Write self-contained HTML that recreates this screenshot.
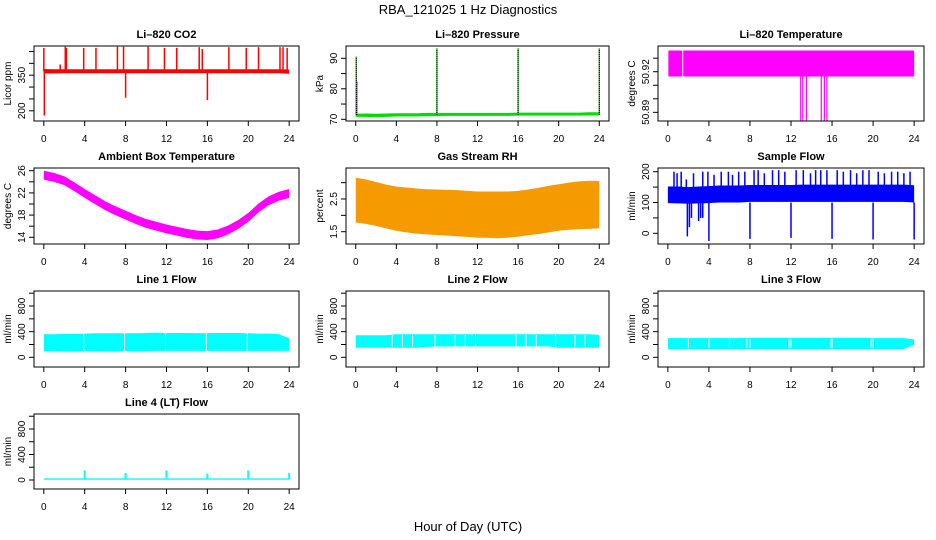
<!DOCTYPE html>
<html><head><meta charset="utf-8"><style>
html,body{margin:0;padding:0;background:#fff}
svg{display:block;font-family:"Liberation Sans",sans-serif}
</style></head><body>
<svg id="fig" width="936" height="540" viewBox="0 0 936 540" xmlns="http://www.w3.org/2000/svg">
<text x="468" y="14" text-anchor="middle" font-size="13">RBA_121025  1 Hz Diagnostics</text>
<text x="468" y="531" text-anchor="middle" font-size="13">Hour of Day (UTC)</text>
</svg>
<script>
// ---- shared ----
const hours = [0,1,2,3,4,5,6,7,8,9,10,11,12,13,14,15,16,17,18,19,20,21,22,23,24];
const xTicks = [0,4,8,12,16,20,24];

// ---- CO2 ----
const co2Lo = [357,357,358,358,358,358,358,358,358,358,358,358,358,358,358,358,358,358,358,358,358,358,358,358,356];
const co2Hi = [376,375,375,375,375,375,375,375,375,375,375,375,375,375,375,375,375,375,375,375,375,375,375,375,374];
const co2SpikeT = [0.0,2.1,2.2,3.9,5.1,7.2,7.8,10.2,11.8,13.0,15.2,15.5,18.1,19.8,21.0,23.1,23.4,23.8,1.6,8.0,16.0,0.05];
const co2SpikeV = [465,470,465,465,465,470,470,470,465,465,468,460,468,465,468,468,468,465,395,255,245,180];

// ---- Pressure ----
const presLo = [70.8,70.8,70.7,70.8,70.9,70.9,70.9,71.0,71.0,71.1,71.1,71.1,71.1,71.1,71.1,71.1,71.2,71.2,71.2,71.2,71.2,71.2,71.2,71.3,71.3];
const presHi = [71.8,71.9,71.8,71.9,72.0,72.0,72.0,72.1,72.1,72.1,72.1,72.1,72.1,72.1,72.1,72.1,72.2,72.2,72.2,72.2,72.2,72.2,72.2,72.3,72.3];
const presSpikeT = [0.05,0.1,8.0,16.0,24.0];
const presSpikeV = [90.5,82.5,93.2,93.2,93.2];

// ---- Li-820 Temperature ----
const tmpLo = [50.9165,50.9165,50.9165,50.9165,50.9165,50.9165,50.9165,50.9165,50.9165,50.9165,50.9165,50.9165,50.9165,50.9165,50.9165,50.9165,50.9165,50.9165,50.9165,50.9165,50.9165,50.9165,50.9165,50.9165,50.9165];
const tmpHi = [50.9357,50.9357,50.9357,50.9357,50.9357,50.9357,50.9357,50.9357,50.9357,50.9357,50.9357,50.9357,50.9357,50.9357,50.9357,50.9357,50.9357,50.9357,50.9357,50.9357,50.9357,50.9357,50.9357,50.9357,50.9357];
const tmpDipT = [12.95,13.15,13.5,14.95,15.25,15.5];
const tmpDipV = [50.884,50.884,50.884,50.884,50.884,50.884];

// ---- Ambient Box Temperature ----
const ambMid = [25.2,24.8,24.2,23.1,21.9,20.8,19.7,18.8,18.0,17.2,16.5,16.0,15.5,15.1,14.7,14.4,14.3,14.6,15.3,16.3,17.6,19.3,20.6,21.4,21.9];
const ambHalf = [0.8,0.8,0.8,0.8,0.8,0.8,0.8,0.8,0.8,0.8,0.8,0.8,0.8,0.8,0.8,0.8,0.8,0.8,0.8,0.8,0.8,0.8,0.8,0.8,0.8];

// ---- Gas Stream RH ----
const rhHi = [3.15,3.1,3.02,2.94,2.88,2.85,2.82,2.8,2.79,2.78,2.77,2.75,2.73,2.73,2.73,2.73,2.75,2.79,2.84,2.9,2.95,3.0,3.04,3.06,3.05];
const rhLo = [1.78,1.74,1.68,1.6,1.53,1.48,1.44,1.42,1.4,1.38,1.36,1.34,1.32,1.31,1.3,1.32,1.35,1.39,1.43,1.48,1.53,1.56,1.58,1.59,1.6];

// ---- Sample Flow ----
const sfLo = [98,97,96,97,98,100,100,100,102,102,102,102,102,102,102,102,102,102,102,102,102,102,102,102,100];
const sfHi = [152,152,150,152,153,155,155,155,157,157,157,157,157,158,158,158,158,158,158,158,158,158,158,158,156];
const sfSpikeT = [0.6,0.9,1.3,1.8,2.5,3.4,3.9,4.5,5.2,5.9,6.3,6.9,7.5,8.4,8.8,9.4,10.2,10.8,11.4,12.5,13.2,13.9,14.4,14.9,15.5,16.5,17.1,17.8,18.4,19.0,19.6,20.5,21.1,21.8,22.4,23.0,23.6];
const sfSpikeV = [200,195,200,175,195,200,200,190,200,200,190,200,200,205,205,195,205,205,200,205,205,195,205,205,205,205,200,205,195,205,205,200,195,200,200,195,200];
const sfDipT = [1.9,2.1,2.3,3.0,3.2,3.4,4.0,8.0,12.0,16.0,20.0,24.0];
const sfDipV = [-10,20,50,40,50,50,-25,-18,-15,-18,-20,-20];

// ---- Line flows ----
const l1Lo = [100,95,90,90,95,95,90,90,95,95,95,100,100,100,100,100,100,100,100,100,100,100,100,100,100];
const l1Hi = [360,360,365,365,370,375,375,375,375,375,380,385,380,380,380,375,380,380,380,380,375,370,370,360,300];
const l1GapT = [3.9,7.9,11.9,15.9,19.9];
const l2Lo = [150,150,150,150,150,150,150,160,170,170,170,170,170,170,170,170,170,170,170,170,150,150,150,150,150];
const l2Hi = [345,345,345,345,360,360,360,360,360,360,360,360,360,360,360,360,360,360,360,360,360,360,360,360,350];
const l2GapT = [3.6,4.6,5.6,7.8,9.8,10.8,11.8,15.8,16.8,17.8,19.7,21.6,22.6];
const l3Lo = [130,130,130,130,130,130,130,130,130,130,130,130,130,130,130,130,130,130,130,130,130,130,130,130,200];
const l3Hi = [300,300,300,300,300,300,300,300,305,305,305,305,305,305,305,305,305,305,305,305,300,300,300,300,280];
const l3GapT = [2.0,4.0,6.0,7.7,8.0,11.8,12.0,15.9,16.0,19.8,20.0];
const l4Lo = [5,5,5,5,5,5,5,5,5,5,5,5,5,5,5,5,5,5,5,5,5,5,5,5,5];
const l4Hi = [25,25,25,25,25,25,25,25,25,25,25,25,25,25,25,25,25,25,25,25,25,25,25,25,25];
const l4SpikeT = [4,8,12,16,20,24];
const l4SpikeV = [150,110,150,100,150,110];

// ---- geometry ----
const NS = "http://www.w3.org/2000/svg";
const svg = document.getElementById("fig");
const colBox = [[34,299],[346,609],[658,924]];
const rowBox = [[46,121],[168,244],[291,367],[414,489]];

function mk(tag, attrs, parent){
  const e = document.createElementNS(NS, tag);
  for (const k in attrs) e.setAttribute(k, attrs[k]);
  (parent||svg).appendChild(e);
  return e;
}

function makePanel(col,row,name,title,ylab,ymin,ymax,yticks,ylabels){
  const [L,R] = colBox[col], [T,B] = rowBox[row];
  const pad = (R-L)*0.04/1.08;
  const x0 = L+pad, x1 = R-pad;
  const g = mk("g",{});
  
  
  const p = {g,L,R,T,B,
    xs: h => x0 + h*(x1-x0)/24,
    ys: v => B - (v-ymin)*(B-T)/(ymax-ymin)};
  const clip = mk("clipPath",{id:"clip-"+name},g);
  mk("rect",{x:L,y:T,width:R-L,height:B-T},clip);
  p.plot = mk("g",{"clip-path":"url(#clip-"+name+")"},g);
  
  
  const box = mk("rect",{x:L,y:T,width:R-L,height:B-T,fill:"none",stroke:"#000","stroke-width":1},g);
  
  
  const t = mk("text",{x:(L+R)/2,y:T-8,"text-anchor":"middle","font-size":11,"font-weight":"bold"},g);
  t.textContent = title;
  
  
  const xa = mk("g",{},g);
  
  
  mk("line",{x1:p.xs(0),x2:p.xs(24),y1:B,y2:B,stroke:"#000"},xa);
  xTicks.forEach(h=>{
    mk("line",{x1:p.xs(h),x2:p.xs(h),y1:B,y2:B+5,stroke:"#000"},xa);
    const tl = mk("text",{x:p.xs(h),y:B+21,"text-anchor":"middle","font-size":10},xa);
    tl.textContent = h;
    
    
  });
  const ya = mk("g",{},g);
  
  
  mk("line",{x1:L,x2:L,y1:p.ys(yticks[0]),y2:p.ys(yticks[yticks.length-1]),stroke:"#000"},ya);
  yticks.forEach(v=>{
    mk("line",{x1:L-5,x2:L,y1:p.ys(v),y2:p.ys(v),stroke:"#000"},ya);
  });
  ylabels.forEach(v=>{
    const yy = p.ys(v);
    const tl = mk("text",{x:0,y:0,"text-anchor":"middle","font-size":10,transform:"translate("+(L-9)+","+yy+") rotate(-90)"},ya);
    tl.textContent = v;
    
    
  });
  const yl = mk("text",{x:0,y:0,"text-anchor":"middle","font-size":10,transform:"translate("+(L-23)+","+((T+B)/2)+") rotate(-90)"},ya);
  yl.textContent = ylab;
  
  
  return p;
}

function band(p,lo,hi,fill,name,t0,t1){
  const pts = [];
  hours.forEach((h,i)=>{ const hh = Math.min(Math.max(h,t0),t1); pts.push(p.xs(hh)+","+p.ys(hi[i])); });
  for (let i=hours.length-1;i>=0;i--){ const hh = Math.min(Math.max(hours[i],t0),t1); pts.push(p.xs(hh)+","+p.ys(lo[i])); }
  const e = mk("polygon",{points:pts.join(" "),fill:fill,stroke:"none"},p.plot);
  
  
  return e;
}
function spikes(p,ts,vs,base,color,w,name,dash){
  ts.forEach((t,i)=>{
    const a = {x1:p.xs(t),x2:p.xs(t),y1:p.ys(base),y2:p.ys(vs[i]),stroke:color,"stroke-width":w};
    if (dash) a["stroke-dasharray"]=dash;
    const e = mk("line",a,p.plot);
    
    
  });
}
function gaps(p,ts,lo,hi,name){
  ts.forEach(t=>{
    const e = mk("line",{x1:p.xs(t),x2:p.xs(t),y1:p.ys(lo),y2:p.ys(hi),stroke:"#fff","stroke-width":1},p.plot);
    
    
  });
}

let p = makePanel(0,0,"co2","Li\u2013820 CO2","Licor ppm",157,473,[200,250,300,350,400,450],[200,350]);
band(p,co2Lo,co2Hi,"#ff0000","co2-series",0,24);
spikes(p,co2SpikeT,co2SpikeV,367,"#ff0000",1.5,"co2-spike");

p = makePanel(1,0,"pressure","Li\u2013820 Pressure","kPa",69.44,94.03,[70,75,80,85,90],[70,80,90]);
band(p,presLo,presHi,"#00dd00","pressure-series",0,24);
spikes(p,presSpikeT,presSpikeV,71.4,"#00dd00",1.5,"pressure-spike");
spikes(p,presSpikeT,presSpikeV,71.4,"#000",1,"pressure-spike-dots","1,1");

p = makePanel(2,0,"li820-temp","Li\u2013820 Temperature","degrees C",50.8836,50.939,[50.89,50.90,50.91,50.92,50.93],[50.89,50.92]);
band(p,tmpLo,tmpHi,"#ff00ff","li820-temp-series",0.05,24);
gaps(p,[1.45],50.9165,50.9357,"li820-temp-gap");
spikes(p,tmpDipT,tmpDipV,50.917,"#ff00ff",1.2,"li820-temp-dip");

const ambLo = ambMid.map((v,i)=>v-ambHalf[i]);
const ambHi = ambMid.map((v,i)=>v+ambHalf[i]);
p = makePanel(0,1,"ambient-temp","Ambient Box Temperature","degrees C",12.79,26.49,[14,16,18,20,22,24,26],[14,18,22,26]);
band(p,ambLo,ambHi,"#ff00ff","ambient-temp-series",0,24);

p = makePanel(1,1,"gas-rh","Gas Stream RH","percent",1.124,3.448,[1.5,2.0,2.5,3.0],[1.5,2.5]);
band(p,rhLo,rhHi,"#f59a00","gas-rh-series",0,24);

p = makePanel(2,1,"sample-flow","Sample Flow","ml/min",-34.7,212,[0,50,100,150,200],[0,100,200]);
band(p,sfLo,sfHi,"#0000ff","sample-flow-series",0,24);
spikes(p,sfSpikeT,sfSpikeV,150,"#0000ff",1.5,"sample-flow-spike");
spikes(p,sfDipT,sfDipV,100,"#0000ff",1.5,"sample-flow-dip");

const lt = [0,200,400,600,800,1000], ll = [0,400,800];
p = makePanel(0,2,"line1-flow","Line 1 Flow","ml/min",-151,1034,lt,ll);
band(p,l1Lo,l1Hi,"#00ffff","line1-flow-series",0,24);
gaps(p,l1GapT,100,380,"line1-flow-gap");

p = makePanel(1,2,"line2-flow","Line 2 Flow","ml/min",-151,1034,lt,ll);
band(p,l2Lo,l2Hi,"#00ffff","line2-flow-series",0,24);
gaps(p,l2GapT,170,345,"line2-flow-gap");

p = makePanel(2,2,"line3-flow","Line 3 Flow","ml/min",-151,1034,lt,ll);
band(p,l3Lo,l3Hi,"#00ffff","line3-flow-series",0,24);
gaps(p,l3GapT,150,290,"line3-flow-gap");

p = makePanel(0,3,"line4-flow","Line 4 (LT) Flow","ml/min",-141,1035,lt,ll);
band(p,l4Lo,l4Hi,"#00ffff","line4-flow-series",0,24);
spikes(p,l4SpikeT,l4SpikeV,15,"#00ffff",2,"line4-flow-spike");
</script>
</body></html>
